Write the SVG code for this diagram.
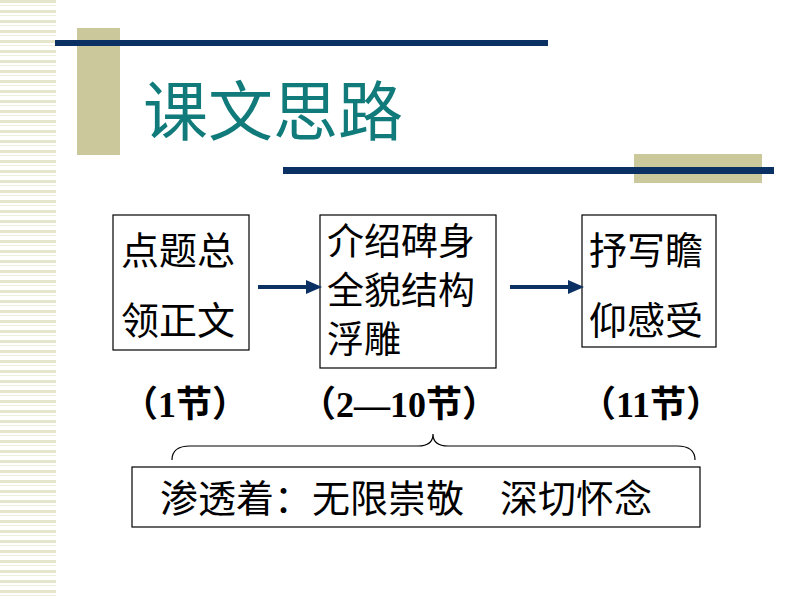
<svg xmlns="http://www.w3.org/2000/svg" width="794" height="596" viewBox="0 0 794 596">
<defs>
<pattern id="stripes" width="56" height="10" patternUnits="userSpaceOnUse">
<rect x="0" y="0" width="56" height="3" fill="#e6e6cc"/>
<rect x="0" y="5" width="56" height="1" fill="#efefdd"/>
</pattern>
<marker id="ah" markerWidth="16" markerHeight="16" refX="12" refY="8" orient="auto" markerUnits="userSpaceOnUse" viewBox="0 0 16 16"><path d="M0,1 L16,8 L0,15 Z" fill="#0b3064"/></marker>
</defs>
<style>
.box{fill:#fff;stroke:#000;stroke-width:1.2}
.t{font-family:"Noto Sans CJK SC",sans-serif;font-size:38px;fill:#000}
.t2{font-family:"Noto Sans CJK SC",sans-serif;font-size:37px;fill:#000}
.lbl{font-family:"Liberation Serif","Noto Sans CJK SC",serif;font-size:36px;font-weight:bold;fill:#000}
.conn{stroke:#0b3064;stroke-width:4;fill:none}
</style>
<rect width="794" height="596" fill="#fff"/>
<rect x="0" y="0" width="56" height="596" fill="url(#stripes)"/>
<rect x="77" y="28" width="43" height="127" fill="#cbc89b"/>
<rect x="55" y="40" width="493" height="6" fill="#0b3064"/>
<rect x="634" y="154" width="128" height="29" fill="#cbc89b"/>
<rect x="283" y="167" width="491" height="7" fill="#0b3064"/>
<text x="143" y="135" font-family="Noto Sans CJK SC,sans-serif" font-size="65" fill="#117a7a">课文思路</text>
<g id="n1"><rect class="box" x="113" y="215" width="136" height="135"/><text class="t" x="121" y="264">点题总</text><text class="t" x="121" y="334">领正文</text></g>
<g id="n2"><rect class="box" x="320" y="215" width="176" height="153"/><text class="t2" x="327" y="255">介绍碑身</text><text class="t2" x="327" y="304">全貌结构</text><text class="t2" x="327" y="353">浮雕</text></g>
<g id="n3"><rect class="box" x="582" y="215" width="134" height="132"/><text class="t" x="589" y="264">抒写瞻</text><text class="t" x="589" y="334">仰感受</text></g>
<g id="connectors">
<line class="conn" x1="258" y1="287" x2="318" y2="287" marker-end="url(#ah)"/>
<line class="conn" x1="510" y1="287" x2="580" y2="287" marker-end="url(#ah)"/>
<path d="M172,460 Q172,446 190,446 L418,446 Q433,446 433,434 Q433,446 448,446 L677,446 Q695,446 695,460" fill="none" stroke="#000" stroke-width="1.2"/>
</g>
<g id="labels">
<text class="lbl" x="122" y="417">（1节）</text>
<text class="lbl" x="300" y="417">（2—10节）</text>
<text class="lbl" x="580" y="417">（11节）</text>
</g>
<g id="n4"><rect class="box" x="132" y="467" width="568" height="60"/><text class="t" x="160" y="512">渗透着：无限崇敬</text><text class="t" x="500" y="512">深切怀念</text></g>
</svg>
